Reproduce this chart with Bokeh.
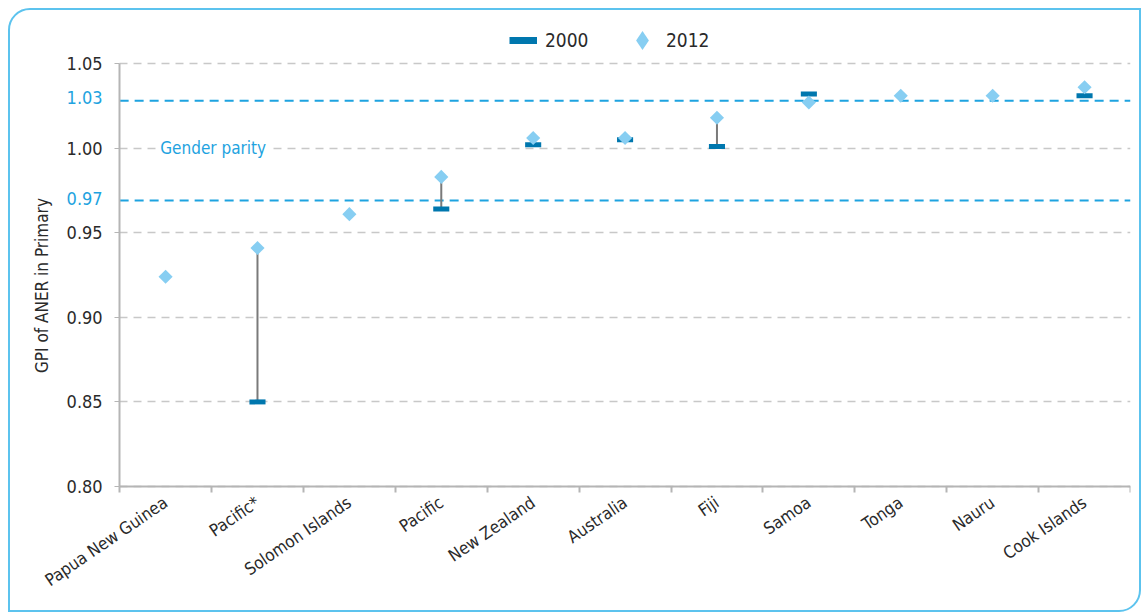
from bokeh.plotting import figure
from bokeh.models import (FixedTicker, Label, Legend, LegendItem, LinearAxis,
                          ColumnDataSource, PrintfTickFormatter)
from bokeh.embed import file_html
from bokeh.resources import INLINE
import math

# ---------------- data ----------------
categories = ["Papua New Guinea", "Pacific*", "Solomon Islands", "Pacific", "New Zealand",
              "Australia", "Fiji", "Samoa", "Tonga", "Nauru", "Cook Islands"]
gpi_2000 = [None, 0.850, None, 0.964, 1.002, 1.005, 1.001, 1.032, None, None, 1.031]
gpi_2012 = [0.924, 0.941, 0.961, 0.983, 1.006, 1.006, 1.018, 1.027, 1.031, 1.031, 1.036]
y_ticks = [0.80, 0.85, 0.90, 0.95, 1.00, 1.05]
parity_band = [1.028, 0.969]        # drawn positions of the dashed parity limits
parity_ticks = [1.03, 0.97]         # blue limit labels on the value axis
series_names = ["2000", "2012"]
y_title = "GPI of ANER in Primary"

FONT = "DejaVu Sans Condensed"
C2000 = "#0077ae"
C2012 = "#87cef2"
BLUE = "#1ea3e0"
TXT = "#2a2a2a"
AXIS = "#b5b5b5"

n = len(categories)
xc = [i + 0.5 for i in range(n)]
nan = float("nan")
y00 = [nan if v is None else v for v in gpi_2000]

# The frame is widened to the left (value-axis labels and title), upwards (legend)
# and downwards (category labels); both axes are pinned/bounded to the data area.
p = figure(width=1133, height=604, x_range=(-0.970, n), y_range=(0.7326, 1.0802),
           output_backend="svg", toolbar_location=None,
           min_border_left=20, min_border_right=13, min_border_top=2, min_border_bottom=14)
p.styles = {"border": "2px solid #5cc3ee", "border-radius": "22px 0 22px 0",
            "margin": "8px 0 0 8px"}
p.outline_line_color = None
p.background_fill_color = "white"
p.border_fill_color = None

# grid
p.xgrid.grid_line_color = None
p.ygrid.grid_line_color = "#c8c8c8"
p.ygrid.grid_line_dash = "8 6"
p.ygrid.grid_line_width = 1.5
p.ygrid.cross_bounds = (0, n)

# y axis, pinned at the left edge of the category area
yax = p.yaxis[0]
yax.fixed_location = 0
yax.ticker = FixedTicker(ticks=y_ticks)
yax.bounds = (y_ticks[0], y_ticks[-1])
yax.formatter = PrintfTickFormatter(format="%.2f")
yax.axis_line_color = AXIS
yax.axis_line_width = 2
yax.major_tick_line_color = AXIS
yax.major_tick_out = 5
yax.major_tick_in = 0
yax.minor_tick_line_color = None
yax.major_label_text_font = FONT
yax.major_label_text_font_size = "18px"
yax.major_label_text_color = TXT
yax.major_label_standoff = 12

# blue parity-limit labels: a second value axis pinned on the first one
lim_ax = LinearAxis(fixed_location=0, ticker=FixedTicker(ticks=parity_ticks),
                    formatter=PrintfTickFormatter(format="%.2f"),
                    axis_line_color=None, major_tick_line_color=None, major_tick_out=5,
                    major_tick_in=0, minor_tick_line_color=None, major_label_standoff=12,
                    major_label_text_font=FONT, major_label_text_font_size="18px",
                    major_label_text_color=BLUE)
p.add_layout(lim_ax, "left")

# y-axis title (vertical text left of the tick labels)
p.add_layout(Label(x=-0.84, y=0.9188, text=y_title, angle=math.pi / 2,
                   text_align="center", text_baseline="middle", text_font=FONT,
                   text_font_size="17px", text_color=TXT))

# x axis, pinned at the bottom of the value scale
xax = p.xaxis[0]
xax.fixed_location = y_ticks[0]
xax.bounds = (0, n)
xax.ticker = FixedTicker(ticks=xc, minor_ticks=list(range(n + 1)))
xax.major_label_overrides = {x: c for x, c in zip(xc, categories)}
xax.axis_line_color = AXIS
xax.axis_line_width = 2
xax.major_tick_line_color = None
xax.minor_tick_line_color = AXIS
xax.minor_tick_line_width = 2
xax.minor_tick_out = 6
xax.minor_tick_in = 0
xax.major_label_orientation = 0.6
xax.major_label_text_font = FONT
xax.major_label_text_font_size = "17px"
xax.major_label_text_color = TXT
xax.major_label_standoff = 8

# parity limits
p.segment(x0=[0] * len(parity_band), x1=[n] * len(parity_band), y0=parity_band,
          y1=parity_band, line_color=BLUE, line_width=2, line_dash="9 6")
p.add_layout(Label(x=0.42, y=1.0, text="Gender parity", text_baseline="middle",
                   text_font=FONT, text_font_size="17px", text_color=BLUE,
                   background_fill_color="white", padding=2))

# data marks
src = ColumnDataSource(dict(x=xc, y00=y00, y12=gpi_2012))
p.segment(x0="x", y0="y00", x1="x", y1="y12", source=src, line_color="#7a7a7a", line_width=2)
p.rect(x="x", y="y00", width=0.175, height=5, height_units="screen", source=src,
       fill_color=C2000, line_color=None)
p.scatter(x="x", y="y12", marker="square", angle=math.pi / 4, size=10, source=src,
          fill_color=C2012, line_color=None)

# legend renderers (styles only; their single point is NaN, so nothing is plotted)
blank = ColumnDataSource(dict(x=[nan], y=[nan]))
r_leg00 = p.line(x="x", y="y", source=blank, line_color=C2000, line_width=7)
r_leg12 = p.scatter(x="x", y="y", source=blank, marker="diamond",
                    fill_color=C2012, line_color=None)
common = dict(orientation="horizontal", padding=0, margin=0, border_line_color=None,
              background_fill_alpha=0, label_text_font=FONT, label_text_font_size="19px",
              label_text_color=TXT)
leg_a = Legend(items=[LegendItem(label=series_names[0], renderers=[r_leg00])],
               location=(479, 548), glyph_width=28, glyph_height=24, label_standoff=8,
               **common)
leg_b = Legend(items=[LegendItem(label=series_names[1], renderers=[r_leg12])],
               location=(588, 536), glyph_width=48, glyph_height=48, label_standoff=-6,
               **common)
p.add_layout(leg_a)
p.add_layout(leg_b)

open("out.html", "w").write(file_html(p, INLINE))
